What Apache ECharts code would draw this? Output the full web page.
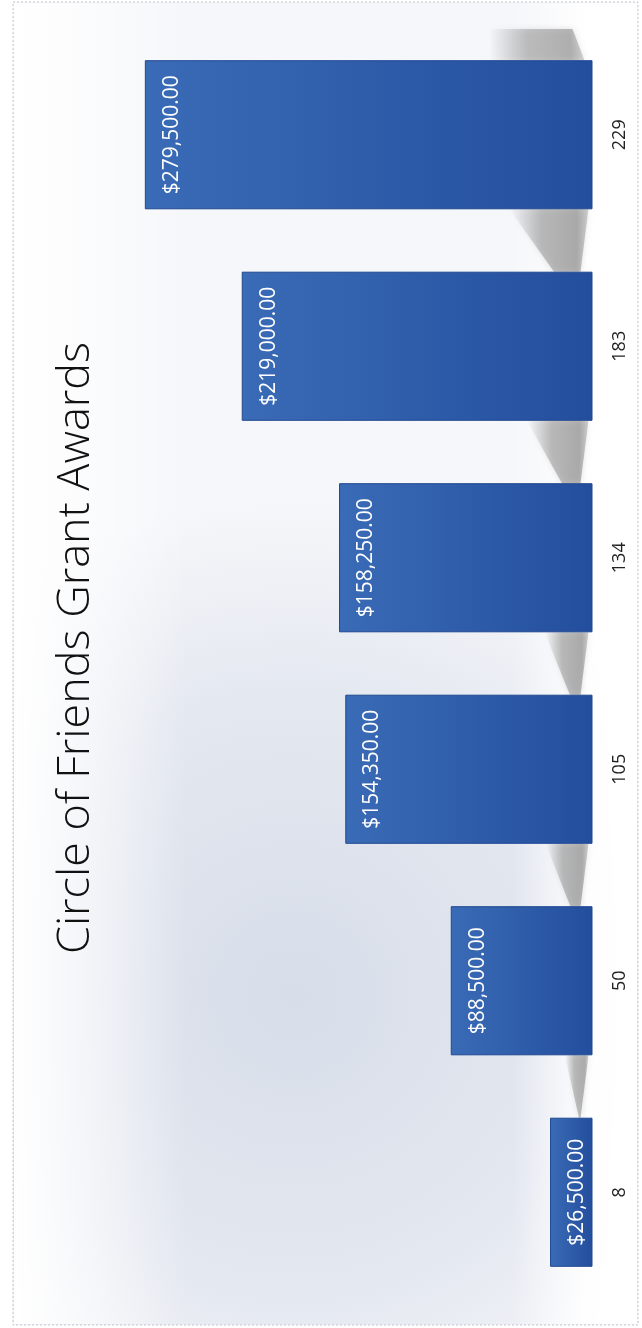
<!DOCTYPE html>
<html>
<head>
<meta charset="utf-8">
<script src="https://cdn.jsdelivr.net/npm/echarts@6/dist/echarts.min.js"></script>
<style>
html,body{margin:0;padding:0;background:#fff;}
#chart{width:642px;height:1328px;}
</style>
</head>
<body>
<div id="chart"></div>
<script>
var titleText = 'Circle of Friends Grant Awards';
var categories = ['8', '50', '105', '134', '183', '229'];
var awards = [26500, 88500, 154350, 158250, 219000, 279500];

var chart = echarts.init(document.getElementById('chart'), null, {renderer: 'canvas'});

function money(v) {
  return '$' + v.toLocaleString('en-US', {minimumFractionDigits: 2, maximumFractionDigits: 2});
}

var gapRatio = 0.295;

var shadowData = awards.map(function (v, i) { return [v, i]; });

function shadowFill(a) {
  return {
    type: 'linear', x: 1, y: 0, x2: 0, y2: 0,
    colorStops: [
      {offset: 0, color: 'rgba(135,135,135,' + (a * 0.6) + ')'},
      {offset: 0.15, color: 'rgba(135,135,135,' + a + ')'},
      {offset: 0.6, color: 'rgba(140,140,140,' + (a * 0.8) + ')'},
      {offset: 1, color: 'rgba(150,150,150,0)'}
    ]
  };
}

function renderShadow(params, api) {
  var v = api.value(0);
  var idx = api.value(1);
  var base = api.coord([0, idx]);
  var band = api.size([0, 1])[1];
  var half = band * (1 - gapRatio) / 2;
  var gap = band * gapRatio;
  var w = v * 0.00029;
  var bx = base[0] - 2;
  var children = [];
  if (idx > 0) {
    var y0 = base[1] + half;
    var y1 = y0 + gap;
    children.push({
      type: 'polygon',
      shape: {points: [[bx - 2, y0], [bx - w, y0], [bx - w * 0.45, y1], [bx - 10, y1]]},
      style: {fill: shadowFill(0.6), shadowBlur: 6, shadowColor: 'rgba(140,140,140,0.5)'}
    });
  }
  if (idx === categories.length - 1) {
    var ya = base[1] - half;
    children.push({
      type: 'polygon',
      shape: {points: [[bx - 6, ya], [bx - w * 1.25, ya], [bx - w * 1.25, ya - gap * 0.5], [bx - 18, ya - gap * 0.5]]},
      style: {fill: shadowFill(0.55), shadowBlur: 6, shadowColor: 'rgba(140,140,140,0.5)'}
    });
  }
  return {type: 'group', children: children};
}

var option = {
  backgroundColor: '#ffffff',
  animation: false,
  graphic: [
    {
      type: 'rect', z: -10, silent: true,
      shape: {x: 13, y: 2, width: 625, height: 1323},
      style: {
        fill: {
          type: 'radial', x: 0.45, y: 0.75, r: 0.8,
          colorStops: [
            {offset: 0, color: '#d7dde9'},
            {offset: 0.6, color: '#e4e8f0'},
            {offset: 1, color: '#f6f7fa'}
          ]
        },
        stroke: '#c4c6cc', lineWidth: 1, lineDash: [2, 2]
      }
    },
    {
      type: 'rect', z: -9, silent: true,
      shape: {x: 14, y: 3, width: 623, height: 1321},
      style: {
        fill: {
          type: 'linear', x: 0, y: 0, x2: 1, y2: 0,
          colorStops: [
            {offset: 0, color: 'rgba(255,255,255,1)'},
            {offset: 0.12, color: 'rgba(255,255,255,0.6)'},
            {offset: 0.28, color: 'rgba(255,255,255,0)'},
            {offset: 0.8, color: 'rgba(255,255,255,0)'},
            {offset: 0.92, color: 'rgba(255,255,255,0.95)'},
            {offset: 1, color: 'rgba(255,255,255,1)'}
          ]
        }
      }
    },
    {
      type: 'text', z: 10,
      x: 76, y: 648, rotation: Math.PI / 2,
      style: {
        text: titleText,
        font: '300 45px "Open Sans", "Liberation Sans", sans-serif',
        fill: '#111111',
        textAlign: 'center',
        textVerticalAlign: 'middle'
      }
    }
  ],
  grid: {left: 112, right: 49.5, top: 29, bottom: 30, containLabel: false},
  xAxis: {
    type: 'value', inverse: true, min: 0, max: 300000,
    show: false
  },
  yAxis: {
    type: 'category', position: 'right', data: categories,
    axisLine: {show: false},
    axisTick: {show: false},
    splitLine: {show: false},
    axisLabel: {
      rotate: 90, margin: 18,
      fontFamily: '"Open Sans", sans-serif', fontSize: 18, color: '#222222'
    }
  },
  series: [
    {
      type: 'custom',
      silent: true,
      z: 1,
      renderItem: renderShadow,
      data: shadowData
    },
    {
      type: 'bar',
      z: 2,
      data: awards,
      barCategoryGap: (gapRatio * 100) + '%',
      itemStyle: {
        color: {
          type: 'linear', x: 0, y: 0, x2: 1, y2: 0,
          colorStops: [
            {offset: 0, color: '#3a6bb6'},
            {offset: 1, color: '#234e9d'}
          ]
        },
        borderColor: '#1f4790', borderWidth: 1
      },
      label: {
        show: true,
        position: 'insideLeft',
        distance: 27,
        rotate: 90,
        align: 'center',
        verticalAlign: 'middle',
        fontFamily: '"Open Sans", sans-serif',
        fontSize: 21,
        color: '#ffffff',
        formatter: function (p) { return money(p.value); }
      }
    }
  ]
};
chart.setOption(option);
</script>
</body>
</html>
